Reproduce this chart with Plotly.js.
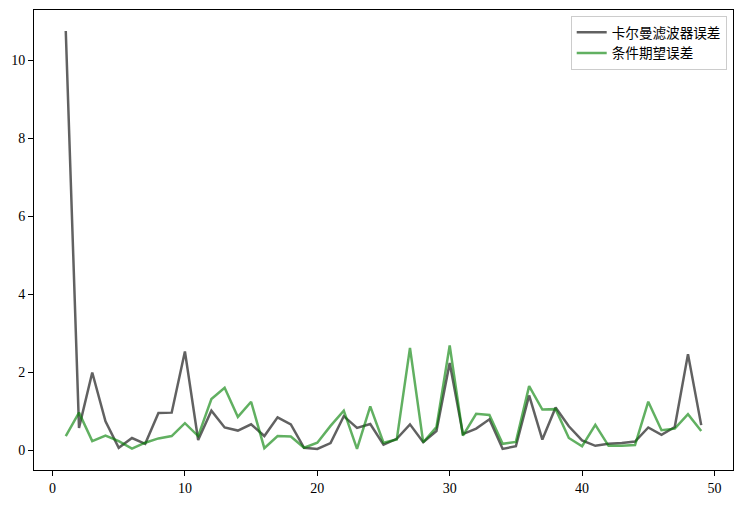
<!DOCTYPE html>
<html>
<head>
<meta charset="utf-8">
<script src="https://cdn.plot.ly/plotly-3.0.1.min.js"></script>
<style>html,body{margin:0;padding:0;background:#fff;}#chart{width:741px;height:507px;}</style>
</head>
<body>
<div id="chart"></div>
<script>
const steps = Array.from({length: 49}, (_, i) => i + 1);
const kalmanName = "卡尔曼滤波器误差";
const condName = "条件期望误差";
const kalmanErr = [10.75, 0.58, 2.00, 0.75, 0.07, 0.32, 0.17, 0.96, 0.97, 2.54,
  0.27, 1.02, 0.59, 0.51, 0.67, 0.37, 0.85, 0.67, 0.07, 0.04,
  0.19, 0.88, 0.58, 0.68, 0.15, 0.30, 0.67, 0.21, 0.50, 2.24,
  0.42, 0.56, 0.80, 0.04, 0.11, 1.41, 0.28, 1.10, 0.62, 0.26,
  0.12, 0.17, 0.19, 0.23, 0.59, 0.40, 0.60, 2.47, 0.65];
const condErr = [0.37, 0.97, 0.24, 0.38, 0.24, 0.05, 0.20, 0.31, 0.37, 0.70,
  0.37, 1.32, 1.61, 0.86, 1.25, 0.06, 0.37, 0.36, 0.07, 0.20,
  0.63, 1.02, 0.04, 1.13, 0.20, 0.28, 2.63, 0.21, 0.60, 2.69,
  0.38, 0.94, 0.91, 0.17, 0.22, 1.65, 1.05, 1.06, 0.32, 0.11,
  0.66, 0.12, 0.12, 0.14, 1.25, 0.52, 0.56, 0.93, 0.50];
const xTicks = [0, 10, 20, 30, 40, 50];
const yTicks = [0, 2, 4, 6, 8, 10];

const traces = [
  {x: steps, y: kalmanErr, name: kalmanName, type: 'scatter', mode: 'lines',
   line: {color: 'rgba(0,0,0,0.62)', width: 2.5}},
  {x: steps, y: condErr, name: condName, type: 'scatter', mode: 'lines',
   line: {color: 'rgba(0,128,0,0.62)', width: 2.5}}
];
const tickFont = {family: '"Liberation Serif", "DejaVu Serif", serif', size: 14, color: '#000'};
const layout = {
  width: 741, height: 507,
  margin: {l: 34, r: 8, t: 10, b: 37},
  paper_bgcolor: '#fff', plot_bgcolor: '#fff',
  showlegend: true,
  legend: {x: 0.991, y: 0.987, xanchor: 'right', yanchor: 'top',
    bgcolor: 'rgba(255,255,255,0.8)', bordercolor: '#cccccc', borderwidth: 1,
    font: {family: '"Noto Sans CJK SC", sans-serif', size: 13.6, color: '#000'},
    tracegroupgap: 0},
  xaxis: {range: [-1.4, 51.4], tickvals: xTicks, ticktext: xTicks.map(String),
    ticks: 'outside', ticklen: 5, tickwidth: 1, tickcolor: '#000',
    showgrid: false, zeroline: false, showline: true, linecolor: '#000', linewidth: 1,
    mirror: true, tickfont: tickFont},
  yaxis: {range: [-0.5, 11.29], tickvals: yTicks, ticktext: yTicks.map(String),
    ticks: 'outside', ticklen: 5, tickwidth: 1, tickcolor: '#000',
    showgrid: false, zeroline: false, showline: true, linecolor: '#000', linewidth: 1,
    mirror: true, tickfont: tickFont}
};
Plotly.newPlot('chart', traces, layout, {displayModeBar: false, staticPlot: true});
</script>
</body>
</html>
